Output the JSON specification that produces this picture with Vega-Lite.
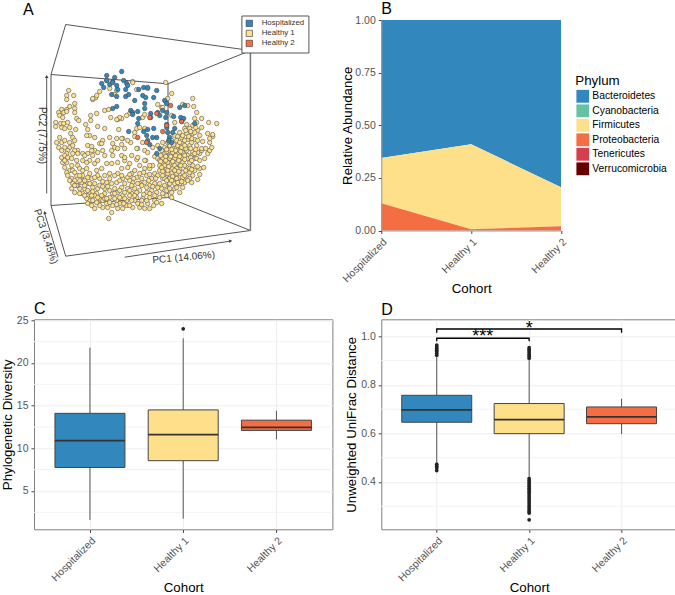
{"$schema":"https://vega.github.io/schema/vega-lite/v6.json","background":"white","padding":{"left":-1,"top":1,"right":0,"bottom":0},"columns":2,"align":{"row":"each","column":"none"},"bounds":"flush","spacing":42.3,"resolve":{"scale":{"fill":"independent"},"legend":{"fill":"independent"}},
"config":{"font":"Liberation Sans","view":{"stroke":null},"title":{"font":"Liberation Sans","fontSize":16,"fontWeight":"normal","color":"#000"},
"axis":{"labelFont":"Liberation Sans","titleFont":"Liberation Sans","labelFontSize":10.5,"labelColor":"#555","titleFontSize":13.3,"titleFontWeight":"normal","titleColor":"#000","tickColor":"#444","tickSize":3,"domain":false,"gridColor":"#EDEDED","labelPadding":3},
"axisX":{"labelAngle":-45,"labelAlign":"right","labelBaseline":"top","titleY":58,"titleBaseline":"middle"},"axisY":{"titleBaseline":"middle","titleAngle":-90}},
"datasets":{
"healthy1":[{"x":-81,"y":60},{"x":-83,"y":55},{"x":-76,"y":55},{"x":-83,"y":51},{"x":-80,"y":44},{"x":-75,"y":47},{"x":-75,"y":42},{"x":-83,"y":41},{"x":-88,"y":41},{"x":-91,"y":38},{"x":-86,"y":38},{"x":-83,"y":39},{"x":-90,"y":35},{"x":-87,"y":33},{"x":-75,"y":38},{"x":-94,"y":28},{"x":-89,"y":27},{"x":-86,"y":27},{"x":-82,"y":28},{"x":-94,"y":24},{"x":-88,"y":23},{"x":-85,"y":22},{"x":-80,"y":23},{"x":-74,"y":21},{"x":-79,"y":17},{"x":-90,"y":13},{"x":-77,"y":13},{"x":-93,"y":8},{"x":-88,"y":8},{"x":-85,"y":10},{"x":-80,"y":8},{"x":-75,"y":10},{"x":-91,"y":3},{"x":-85,"y":3},{"x":-80,"y":3},{"x":-77,"y":5},{"x":-72,"y":0},{"x":-75,"y":0},{"x":-82,"y":0},{"x":-88,"y":0},{"x":-83,"y":-3},{"x":-77,"y":-3},{"x":-72,"y":-3},{"x":-62,"y":5},{"x":-58,"y":4},{"x":-67,"y":-3},{"x":-62,"y":-3},{"x":-55,"y":0},{"x":-58,"y":0},{"x":-64,"y":26},{"x":-59,"y":30},{"x":-53,"y":37},{"x":-59,"y":35},{"x":-73,"y":32},{"x":-71,"y":30},{"x":-62,"y":21},{"x":-52,"y":24},{"x":-45,"y":22},{"x":-47,"y":10},{"x":-50,"y":7},{"x":-55,"y":13},{"x":-60,"y":15},{"x":-63,"y":15},{"x":-45,"y":40},{"x":-41,"y":41},{"x":-32,"y":31},{"x":-28,"y":32},{"x":-57,"y":51},{"x":-54,"y":53},{"x":-40,"y":13},{"x":-27,"y":12},{"x":-33,"y":12},{"x":-35,"y":3},{"x":-38,"y":0},{"x":-32,"y":2},{"x":-25,"y":2},{"x":-20,"y":37},{"x":-40,"y":62},{"x":-37,"y":7},{"x":-28,"y":6},{"x":-52,"y":-2},{"x":-47,"y":0},{"x":-48,"y":7},
{"x":-88,"y":-7},{"x":-85,"y":-5},{"x":-82,"y":-7},{"x":-87,"y":-12},{"x":-83,"y":-12},{"x":-85,"y":-17},{"x":-80,"y":-20},{"x":-83,"y":-22},{"x":-77,"y":-20},{"x":-73,"y":-25},{"x":-82,"y":-25},{"x":-78,"y":-28},{"x":-75,"y":-30},{"x":-78,"y":-38},{"x":-75,"y":-42},{"x":-70,"y":-38},{"x":-67,"y":-43},{"x":-65,"y":-38},{"x":-62,"y":-45},{"x":-60,"y":-50},{"x":-62,"y":-53},{"x":-58,"y":-55},{"x":-55,"y":-58},{"x":-47,"y":-57},{"x":-38,"y":-62},{"x":-32,"y":-58},{"x":-27,"y":-58},{"x":-41,"y":-68},{"x":-72,"y":-15},{"x":-70,"y":-18},{"x":-67,"y":-20},{"x":-63,"y":-18},{"x":-60,"y":-10},{"x":-55,"y":-13},{"x":-52,"y":-10},{"x":-43,"y":-13},{"x":-38,"y":-13},{"x":-45,"y":-5},{"x":-37,"y":-5},{"x":-28,"y":-5},{"x":-57,"y":-5},{"x":-65,"y":-5},{"x":-67,"y":-10},{"x":-60,"y":-23},{"x":-58,"y":-28},{"x":-67,"y":-30},{"x":-68,"y":-32},{"x":-55,"y":-33},{"x":-57,"y":-37},{"x":-52,"y":-38},{"x":-53,"y":-43},{"x":-50,"y":-48},{"x":-45,"y":-43},{"x":-40,"y":-40},{"x":-37,"y":-43},{"x":-40,"y":-47},{"x":-32,"y":-42},{"x":-27,"y":-45},{"x":-23,"y":-50},{"x":-33,"y":-50},{"x":-43,"y":-53},{"x":-28,"y":-37},{"x":-22,"y":-38},{"x":-33,"y":-32},{"x":-38,"y":-33},{"x":-43,"y":-32},{"x":-27,"y":-28},{"x":-22,"y":-27},{"x":-32,"y":-23},{"x":-28,"y":-18},{"x":-22,"y":-17},{"x":-45,"y":-25},{"x":-50,"y":-28},{"x":-53,"y":-20},{"x":-48,"y":-18},{"x":-60,"y":-42},{"x":-57,"y":-50},{"x":-50,"y":-55},{"x":-47,"y":-50},{"x":-37,"y":-55},{"x":-30,"y":-53},{"x":-23,"y":-55},{"x":-67,"y":-25},{"x":-72,"y":-35},{"x":-62,"y":-33},{"x":-63,"y":-48},{"x":-55,"y":-45},{"x":-52,"y":-25},{"x":-35,"y":-25},{"x":-40,"y":-23},{"x":-25,"y":-10},{"x":-32,"y":-12},
{"x":-18,"y":-23},{"x":-13,"y":-27},{"x":-10,"y":-23},{"x":-5,"y":-18},{"x":0,"y":-18},{"x":5,"y":-23},{"x":10,"y":-20},{"x":3,"y":-15},{"x":-4,"y":-10},{"x":-13,"y":-9},{"x":-20,"y":-13},{"x":-17,"y":-32},{"x":-10,"y":-33},{"x":-5,"y":-32},{"x":0,"y":-35},{"x":5,"y":-33},{"x":10,"y":-33},{"x":13,"y":-28},{"x":-15,"y":-38},{"x":-10,"y":-40},{"x":-3,"y":-42},{"x":2,"y":-40},{"x":7,"y":-42},{"x":12,"y":-38},{"x":17,"y":-40},{"x":22,"y":-42},{"x":25,"y":-38},{"x":30,"y":-42},{"x":-18,"y":-43},{"x":-13,"y":-47},{"x":-7,"y":-48},{"x":0,"y":-47},{"x":5,"y":-50},{"x":10,"y":-47},{"x":17,"y":-45},{"x":22,"y":-47},{"x":-2,"y":-53},{"x":4,"y":-55},{"x":12,"y":-53},{"x":-10,"y":-57},{"x":-5,"y":-58},{"x":0,"y":-58},{"x":-17,"y":-57},{"x":-8,"y":-50},{"x":15,"y":-35},{"x":20,"y":-33},{"x":25,"y":-33},{"x":30,"y":-33},{"x":35,"y":-32},{"x":42,"y":-32},{"x":48,"y":-29},{"x":20,"y":-28},{"x":25,"y":-28},{"x":30,"y":-27},{"x":37,"y":-27},{"x":43,"y":-25},{"x":50,"y":-24},{"x":15,"y":-23},{"x":22,"y":-23},{"x":27,"y":-23},{"x":33,"y":-22},{"x":40,"y":-22},{"x":45,"y":-20},{"x":50,"y":-18},{"x":54,"y":-17},{"x":17,"y":-18},{"x":23,"y":-18},{"x":30,"y":-18},{"x":37,"y":-17},{"x":43,"y":-15},{"x":48,"y":-16},{"x":13,"y":-13},{"x":20,"y":-13},{"x":27,"y":-13},{"x":33,"y":-12},{"x":40,"y":-12},{"x":45,"y":-8},{"x":13,"y":-8},{"x":18,"y":-8},{"x":25,"y":-8},{"x":32,"y":-7},{"x":38,"y":-5},{"x":43,"y":-4},{"x":50,"y":-3},{"x":58,"y":-3},{"x":52,"y":0},{"x":60,"y":0},{"x":15,"y":-3},{"x":22,"y":-3},{"x":28,"y":-3},{"x":33,"y":-2},{"x":5,"y":-6},{"x":8,"y":-8},{"x":0,"y":-15},{"x":18,"y":-23},{"x":28,"y":-32},{"x":33,"y":-37},
{"x":-17,"y":69},{"x":16,"y":68},{"x":-2,"y":62},{"x":18,"y":52},{"x":22,"y":57},{"x":17,"y":47},{"x":43,"y":52},{"x":44,"y":44},{"x":38,"y":45},{"x":33,"y":46},{"x":47,"y":38},{"x":52,"y":32},{"x":45,"y":32},{"x":59,"y":28},{"x":67,"y":27},{"x":58,"y":17},{"x":63,"y":14},{"x":63,"y":16},{"x":47,"y":28},{"x":37,"y":26},{"x":43,"y":25},{"x":52,"y":23},{"x":48,"y":20},{"x":40,"y":22},{"x":35,"y":22},{"x":30,"y":18},{"x":37,"y":17},{"x":43,"y":17},{"x":50,"y":15},{"x":53,"y":9},{"x":60,"y":8},{"x":45,"y":11},{"x":38,"y":11},{"x":32,"y":13},{"x":27,"y":10},{"x":33,"y":7},{"x":40,"y":5},{"x":47,"y":5},{"x":52,"y":2},{"x":27,"y":3},{"x":20,"y":5},{"x":23,"y":-2},{"x":30,"y":0},{"x":37,"y":0},{"x":43,"y":-1},{"x":48,"y":-2},{"x":13,"y":8},{"x":15,"y":3},{"x":17,"y":-1},{"x":12,"y":43},{"x":8,"y":46},{"x":-7,"y":33},{"x":-5,"y":36},{"x":22,"y":35},{"x":25,"y":28},{"x":-13,"y":22},{"x":-5,"y":22},{"x":-15,"y":14},{"x":-19,"y":8},{"x":-5,"y":0},{"x":-12,"y":2},{"x":13,"y":43},
{"x":-28,"y":12},{"x":-22,"y":10},{"x":-31,"y":21},{"x":-15,"y":18},{"x":-10,"y":23},{"x":-13,"y":2},{"x":-7,"y":8},{"x":-2,"y":-2},{"x":3,"y":3},{"x":-12,"y":-7},{"x":-5,"y":-10},{"x":-18,"y":-5},{"x":-25,"y":-7},{"x":-23,"y":35},{"x":-30,"y":33},{"x":-33,"y":31},{"x":-39,"y":33},{"x":-33,"y":60},{"x":-35,"y":56},{"x":-13,"y":61},{"x":-17,"y":68},{"x":-43,"y":70},{"x":-50,"y":59},{"x":-53,"y":55},{"x":-57,"y":52},
{"x":-70,"y":-25},{"x":-65,"y":-30},{"x":-60,"y":-33},{"x":-50,"y":-35},{"x":-45,"y":-38},{"x":-35,"y":-38},{"x":-30,"y":-30},{"x":-25,"y":-33},{"x":-20,"y":-30},{"x":-18,"y":-35},{"x":-12,"y":-33},{"x":-8,"y":-28},{"x":-3,"y":-25},{"x":2,"y":-28},{"x":8,"y":-25},{"x":-15,"y":-20},{"x":-10,"y":-15},{"x":-20,"y":-45},{"x":-15,"y":-50},{"x":-25,"y":-48},{"x":-35,"y":-48},{"x":-30,"y":-47},{"x":-20,"y":-55},{"x":-12,"y":-53},{"x":-45,"y":-48},{"x":-40,"y":-52},{"x":-53,"y":-52},{"x":-65,"y":-45},{"x":-70,"y":-43},{"x":-73,"y":-35},{"x":-77,"y":-33},{"x":-80,"y":-30},{"x":10,"y":-10},{"x":12,"y":0},{"x":8,"y":5},{"x":18,"y":8},{"x":25,"y":15},{"x":22,"y":10},{"x":35,"y":10},{"x":42,"y":8},{"x":47,"y":-8},{"x":35,"y":-15},{"x":25,"y":-15},{"x":15,"y":-15},{"x":10,"y":-15},{"x":40,"y":-18},{"x":45,"y":-3},{"x":28,"y":5},{"x":18,"y":-12},{"x":32,"y":3},{"x":38,"y":-8},{"x":20,"y":-8},{"x":27,"y":-18},{"x":33,"y":-27},{"x":40,"y":-28},{"x":27,"y":-37},{"x":20,"y":-38},{"x":15,"y":-28},{"x":55,"y":-8},{"x":50,"y":-10},{"x":56,"y":2},{"x":62,"y":3},{"x":60,"y":12},
{"x":11,"y":-5},{"x":16,"y":-6},{"x":21,"y":-6},{"x":26,"y":-5},{"x":30,"y":-6},{"x":35,"y":-5},{"x":41,"y":-7},{"x":11,"y":-11},{"x":16,"y":-10},{"x":23,"y":-11},{"x":29,"y":-10},{"x":35,"y":-9},{"x":42,"y":-10},{"x":12,"y":-17},{"x":19,"y":-16},{"x":25,"y":-20},{"x":31,"y":-15},{"x":36,"y":-20},{"x":42,"y":-19},{"x":13,"y":-21},{"x":18,"y":-20},{"x":23,"y":-26},{"x":29,"y":-21},{"x":35,"y":-25},{"x":13,"y":-25},{"x":17,"y":-30},{"x":22,"y":-30},{"x":27,"y":-28},{"x":32,"y":-31},{"x":38,"y":-30},{"x":17,"y":1},{"x":22,"y":1},{"x":26,"y":0},{"x":31,"y":-1},{"x":36,"y":2},{"x":41,"y":2},{"x":46,"y":1},{"x":19,"y":9},{"x":24,"y":6},{"x":30,"y":8},{"x":35,"y":5},{"x":42,"y":12},{"x":48,"y":10},{"x":33,"y":15},{"x":39,"y":14},{"x":45,"y":18},{"x":28,"y":14},{"x":41,"y":19},{"x":36,"y":20},{"x":46,"y":23},
{"x":-8,"y":-35},{"x":-3,"y":-37},{"x":3,"y":-36},{"x":8,"y":-37},{"x":-13,"y":-42},{"x":-6,"y":-44},{"x":0,"y":-43},{"x":5,"y":-45},{"x":13,"y":-43},{"x":-15,"y":-45},{"x":-20,"y":-40},{"x":-25,"y":-42},{"x":-30,"y":-40},{"x":-35,"y":-43},{"x":-42,"y":-36},{"x":-47,"y":-36},{"x":-48,"y":-45},{"x":-43,"y":-48},{"x":-58,"y":-45},{"x":-62,"y":-40},{"x":-57,"y":-41},{"x":-65,"y":-35},{"x":-70,"y":-30},{"x":-75,"y":-35},{"x":-8,"y":-54},{"x":-3,"y":-50},{"x":7,"y":-52},{"x":-18,"y":-50},{"x":-26,"y":-53},{"x":-33,"y":-54},{"x":-42,"y":-57},{"x":-52,"y":-47},{"x":-28,"y":-25},{"x":-20,"y":-24},{"x":-16,"y":-28},{"x":-6,"y":-22},{"x":0,"y":-24},{"x":-1,"y":-30},{"x":6,"y":-28},{"x":-40,"y":-28},{"x":-47,"y":-31},{"x":-55,"y":-27},{"x":-62,"y":-27},{"x":-78,"y":-15},{"x":-75,"y":-22},{"x":-85,"y":-10},{"x":-78,"y":-8},{"x":-73,"y":-10},{"x":-63,"y":-12}],
"hospitalized":[{"x":-43,"y":75},{"x":-28,"y":79},{"x":-35,"y":73},{"x":-43,"y":70},{"x":-37,"y":69},{"x":-48,"y":67},{"x":-46,"y":63},{"x":-40,"y":66},{"x":-37,"y":68},{"x":-33,"y":65},{"x":-26,"y":70},{"x":-23,"y":67},{"x":-22,"y":65},{"x":-32,"y":61},{"x":-24,"y":61},{"x":-38,"y":56},{"x":-33,"y":54},{"x":-24,"y":54},{"x":-21,"y":56},{"x":-11,"y":61},{"x":-6,"y":63},{"x":-2,"y":63},{"x":-7,"y":55},{"x":-4,"y":53},{"x":7,"y":60},{"x":4,"y":53},{"x":-15,"y":50},{"x":-5,"y":47},{"x":15,"y":50},{"x":17,"y":47},{"x":-33,"y":44},{"x":-37,"y":42},{"x":-19,"y":40},{"x":-17,"y":38},{"x":-12,"y":39},{"x":-17,"y":36},{"x":-11,"y":32},{"x":1,"y":37},{"x":-5,"y":42},{"x":8,"y":38},{"x":13,"y":40},{"x":17,"y":38},{"x":16,"y":33},{"x":10,"y":35},{"x":1,"y":33},{"x":-12,"y":27},{"x":-21,"y":19},{"x":4,"y":22},{"x":-2,"y":21},{"x":-6,"y":19},{"x":17,"y":23},{"x":18,"y":18},{"x":30,"y":43},{"x":35,"y":45},{"x":24,"y":34},{"x":31,"y":33},{"x":34,"y":32},{"x":32,"y":29},{"x":20,"y":13},{"x":23,"y":18},{"x":19,"y":10},{"x":7,"y":13},{"x":3,"y":13},{"x":-3,"y":15},{"x":-2,"y":10},{"x":0,"y":6},{"x":10,"y":2},{"x":7,"y":-3},{"x":22,"y":8},{"x":25,"y":22},{"x":17,"y":26},{"x":45,"y":27}],
"healthy2":[{"x":21,"y":45},{"x":7,"y":37},{"x":0,"y":33},{"x":17,"y":25},{"x":13,"y":19},{"x":32,"y":29},{"x":-12,"y":13},{"x":-3,"y":8}],
"boxC":[{"Cohort":"Hospitalized","lower":1.6,"q1":7.75,"median":10.9,"q3":14.1,"upper":21.8},{"Cohort":"Healthy 1","lower":1.75,"q1":8.55,"median":11.6,"q3":14.5,"upper":22.9},{"Cohort":"Healthy 2","lower":11.05,"q1":12.1,"median":12.45,"q3":13.3,"upper":14.4}],
"boxD":[{"Cohort":"Hospitalized","lower":0.481,"q1":0.646,"median":0.697,"q3":0.757,"upper":0.92},{"Cohort":"Healthy 1","lower":0.418,"q1":0.599,"median":0.657,"q3":0.723,"upper":0.905},{"Cohort":"Healthy 2","lower":0.597,"q1":0.64,"median":0.668,"q3":0.709,"upper":0.743}],
"outD":[{"Cohort":"Hospitalized","v":0.964},{"Cohort":"Hospitalized","v":0.957},{"Cohort":"Hospitalized","v":0.95},{"Cohort":"Hospitalized","v":0.943},{"Cohort":"Hospitalized","v":0.936},{"Cohort":"Hospitalized","v":0.929},{"Cohort":"Hospitalized","v":0.922},{"Cohort":"Hospitalized","v":0.473},{"Cohort":"Hospitalized","v":0.465},{"Cohort":"Hospitalized","v":0.458},{"Cohort":"Hospitalized","v":0.447},{"Cohort":"Healthy 1","v":0.953},{"Cohort":"Healthy 1","v":0.946},{"Cohort":"Healthy 1","v":0.939},{"Cohort":"Healthy 1","v":0.932},{"Cohort":"Healthy 1","v":0.925},{"Cohort":"Healthy 1","v":0.918},{"Cohort":"Healthy 1","v":0.91},{"Cohort":"Healthy 1","v":0.414},{"Cohort":"Healthy 1","v":0.406},{"Cohort":"Healthy 1","v":0.398},{"Cohort":"Healthy 1","v":0.39},{"Cohort":"Healthy 1","v":0.382},{"Cohort":"Healthy 1","v":0.374},{"Cohort":"Healthy 1","v":0.366},{"Cohort":"Healthy 1","v":0.358},{"Cohort":"Healthy 1","v":0.35},{"Cohort":"Healthy 1","v":0.342},{"Cohort":"Healthy 1","v":0.334},{"Cohort":"Healthy 1","v":0.326},{"Cohort":"Healthy 1","v":0.318},{"Cohort":"Healthy 1","v":0.31},{"Cohort":"Healthy 1","v":0.302},{"Cohort":"Healthy 1","v":0.294},{"Cohort":"Healthy 1","v":0.286},{"Cohort":"Healthy 1","v":0.278},{"Cohort":"Healthy 1","v":0.272},{"Cohort":"Healthy 1","v":0.244}],
"brackets":[{"b":"a","Cohort":"Hospitalized","y":0.98,"s":1},{"b":"a","Cohort":"Hospitalized","y":0.992,"s":2},{"b":"a","Cohort":"Healthy 1","y":0.992,"s":3},{"b":"a","Cohort":"Healthy 1","y":0.98,"s":4},{"b":"b","Cohort":"Hospitalized","y":1.015,"s":1},{"b":"b","Cohort":"Hospitalized","y":1.03,"s":2},{"b":"b","Cohort":"Healthy 2","y":1.03,"s":3},{"b":"b","Cohort":"Healthy 2","y":1.015,"s":4}]
},
"concat":[
{"width":304.7,"height":257,"title":{"text":"A","anchor":"start","frame":"group","offset":-3.3,"dx":-11},
"encoding":{"x":{"field":"x","type":"quantitative","scale":{"domain":[-115.7,189],"nice":false,"zero":false},"axis":null},"y":{"field":"y","type":"quantitative","scale":{"domain":[-126.5,130.5],"nice":false,"zero":false},"axis":null}},
"layer":[
{"data":{"values":[{"x":-84,"y":126,"x2":100.7,"y2":100},{"x":-98.7,"y":76,"x2":18.3,"y2":66.7},{"x":-98.7,"y":76,"x2":-98.7,"y2":-55},{"x":18.3,"y":66.7,"x2":18.3,"y2":-47},{"x":-98.7,"y":-55,"x2":18.3,"y2":-47},{"x":-98.7,"y":76,"x2":-84,"y2":126},{"x":-98.7,"y":-55,"x2":-84,"y2":-105.7},{"x":18.3,"y":66.7,"x2":100.7,"y2":100},{"x":-84,"y":-105.7,"x2":100.7,"y2":-80},{"x":18.3,"y":-47,"x2":100.7,"y2":-80},{"x":-103,"y":-43,"x2":-103,"y2":73},{"x":-91.7,"y":-106.7,"x2":-105,"y2":-63},{"x":-25,"y":-106.7,"x2":80,"y2":-90.7}]},"mark":{"type":"rule","color":"#555","strokeWidth":1},"encoding":{"x2":{"field":"x2"},"y2":{"field":"y2"}}},
{"data":{"values":[{"x":100.7,"y":100,"x2":100.7,"y2":-80}]},"mark":{"type":"rule","color":"#777","strokeWidth":1.5},"encoding":{"x2":{"field":"x2"},"y2":{"field":"y2"}}},
{"data":{"values":[{"x":-103,"y":74,"heading":0},{"x":-105,"y":-62,"heading":-17},{"x":81,"y":-90.5,"heading":81}]},"mark":{"type":"point","shape":"triangle-up","filled":true,"size":14,"color":"#444","opacity":1},"encoding":{"angle":{"field":"heading","type":"quantitative","scale":null}}},
{"data":{"values":[{"x":34,"y":-107,"label":"PC1 (14.06%)","angle":-5},{"x":-108,"y":15,"label":"PC2 (7.75%)","angle":90},{"x":-104,"y":-86,"label":"PC3 (3.45%)","angle":72}]},"mark":{"type":"text","fontSize":10,"color":"#333","font":"Liberation Sans","align":"center","baseline":"middle"},"encoding":{"text":{"field":"label"},"angle":{"field":"angle","type":"quantitative","scale":null}}},
{"data":{"name":"healthy1"},"mark":{"type":"point","filled":true,"size":20,"stroke":"#555","strokeWidth":0.6,"opacity":1},"encoding":{"fill":{"datum":"Healthy 1","scale":{"domain":["Hospitalized","Healthy 1","Healthy 2"],"range":["#3288BD","#FEE08B","#F46D43"]},"legend":{"orient":"none","legendX":207.4,"legendY":-4.5,"title":null,"fillColor":"white","strokeColor":"#555","padding":4,"symbolType":"square","symbolSize":40,"symbolStrokeColor":"#333","symbolStrokeWidth":0.6,"labelFont":"Liberation Sans","labelFontSize":7.8,"labelColor":"#333","labelOffset":8.5,"rowPadding":0,"zindex":1}}}},
{"data":{"name":"hospitalized"},"mark":{"type":"point","filled":true,"size":20,"stroke":"#444","strokeWidth":0.6,"opacity":1},"encoding":{"fill":{"datum":"Hospitalized","scale":{"domain":["Hospitalized","Healthy 1","Healthy 2"],"range":["#3288BD","#FEE08B","#F46D43"]}}}},
{"data":{"name":"healthy2"},"mark":{"type":"point","filled":true,"size":20,"stroke":"#444","strokeWidth":0.6,"opacity":1},"encoding":{"fill":{"datum":"Healthy 2","scale":{"domain":["Hospitalized","Healthy 1","Healthy 2"],"range":["#3288BD","#FEE08B","#F46D43"]}}}}
]},
{"width":179.7,"height":210.5,"title":{"text":"B","anchor":"start","frame":"group","offset":-2.3},
"layer":[
{"data":{"values":[{"Cohort":"Hospitalized","Phylum":"Bacteroidetes","a":0.655},{"Cohort":"Hospitalized","Phylum":"Cyanobacteria","a":0},{"Cohort":"Hospitalized","Phylum":"Firmicutes","a":0.215},{"Cohort":"Hospitalized","Phylum":"Proteobacteria","a":0.13},{"Cohort":"Hospitalized","Phylum":"Tenericutes","a":0},{"Cohort":"Hospitalized","Phylum":"Verrucomicrobia","a":0},{"Cohort":"Healthy 1","Phylum":"Bacteroidetes","a":0.59},{"Cohort":"Healthy 1","Phylum":"Cyanobacteria","a":0},{"Cohort":"Healthy 1","Phylum":"Firmicutes","a":0.404},{"Cohort":"Healthy 1","Phylum":"Proteobacteria","a":0.006},{"Cohort":"Healthy 1","Phylum":"Tenericutes","a":0},{"Cohort":"Healthy 1","Phylum":"Verrucomicrobia","a":0},{"Cohort":"Healthy 2","Phylum":"Bacteroidetes","a":0.795},{"Cohort":"Healthy 2","Phylum":"Cyanobacteria","a":0},{"Cohort":"Healthy 2","Phylum":"Firmicutes","a":0.185},{"Cohort":"Healthy 2","Phylum":"Proteobacteria","a":0.02},{"Cohort":"Healthy 2","Phylum":"Tenericutes","a":0},{"Cohort":"Healthy 2","Phylum":"Verrucomicrobia","a":0}]},
"mark":{"type":"area","opacity":1},
"encoding":{"x":{"field":"Cohort","type":"nominal","scale":{"type":"point","domain":["Hospitalized","Healthy 1","Healthy 2"],"padding":0},"axis":{"title":"Cohort","grid":false,"domain":true,"domainColor":"#999","zindex":1}},"y":{"field":"a","type":"quantitative","stack":"zero","scale":{"domain":[0,1],"nice":false},"axis":{"title":"Relative Abundance","values":[0,0.25,0.5,0.75,1],"format":".2f","grid":false,"titleX":-34.3,"domain":true,"domainColor":"#999","zindex":1}},
"fill":{"field":"Phylum","type":"nominal","scale":{"domain":["Bacteroidetes","Cyanobacteria","Firmicutes","Proteobacteria","Tenericutes","Verrucomicrobia"],"range":["#3288BD","#66C2A5","#FEE08B","#F46D43","#D53E4F","#660000"]},"legend":{"orient":"none","legendX":194,"legendY":53.5,"title":"Phylum","titleFont":"Liberation Sans","titleFontSize":13.3,"titleFontWeight":"normal","titleColor":"#000","titlePadding":2.5,"symbolType":"square","symbolSize":190,"symbolStrokeColor":"white","symbolStrokeWidth":1,"labelFont":"Liberation Sans","labelFontSize":10.3,"labelColor":"#000","labelOffset":2,"rowPadding":0.5,"clipHeight":14,"padding":0}}}},
{"mark":{"type":"rule","color":"#AAA","strokeWidth":1},"encoding":{"y":{"datum":1,"type":"quantitative","scale":{"domain":[0,1],"nice":false}}}},
{"mark":{"type":"rule","color":"#AAA","strokeWidth":1},"encoding":{"x":{"datum":"Healthy 2","type":"nominal","scale":{"type":"point","domain":["Hospitalized","Healthy 1","Healthy 2"],"padding":0}}}}
]},
{"width":298.4,"height":210,"title":{"text":"C","anchor":"start","frame":"group","offset":-2},"view":{"stroke":"#808080"},
"layer":[
{"data":{"values":[{"v":2.5},{"v":7.5},{"v":12.5},{"v":17.5},{"v":22.5}]},"mark":{"type":"rule","color":"#F3F3F3","strokeWidth":1},"encoding":{"y":{"field":"v","type":"quantitative","scale":{"domain":[0.51,25.12],"nice":false,"zero":false},"axis":{"title":"Phylogenetic Diversity","values":[5,10,15,20,25],"grid":true,"titleX":-27}}}},
{"data":{"name":"boxC"},"mark":{"type":"rule","color":"#555","strokeWidth":1},"encoding":{"x":{"field":"Cohort","type":"nominal","scale":{"type":"point","domain":["Hospitalized","Healthy 1","Healthy 2"],"padding":0.6},"axis":{"title":"Cohort","grid":true}},"y":{"field":"lower","type":"quantitative","scale":{"domain":[0.51,25.12],"nice":false,"zero":false}},"y2":{"field":"upper"}}},
{"data":{"name":"boxC"},"mark":{"type":"bar","size":70,"stroke":"#444","strokeWidth":1},"encoding":{"x":{"field":"Cohort","type":"nominal","scale":{"type":"point","domain":["Hospitalized","Healthy 1","Healthy 2"],"padding":0.6}},"y":{"field":"q1","type":"quantitative","scale":{"domain":[0.51,25.12],"nice":false,"zero":false}},"y2":{"field":"q3"},"fill":{"field":"Cohort","type":"nominal","scale":{"domain":["Hospitalized","Healthy 1","Healthy 2"],"range":["#3288BD","#FEE08B","#F46D43"]},"legend":null}}},
{"data":{"name":"boxC"},"mark":{"type":"tick","size":70,"thickness":1.8,"color":"#333","opacity":1},"encoding":{"x":{"field":"Cohort","type":"nominal","scale":{"type":"point","domain":["Hospitalized","Healthy 1","Healthy 2"],"padding":0.6}},"y":{"field":"median","type":"quantitative","scale":{"domain":[0.51,25.12],"nice":false,"zero":false}}}},
{"data":{"values":[{"Cohort":"Healthy 1","v":24}]},"mark":{"type":"point","filled":true,"size":14,"color":"#222","opacity":1},"encoding":{"x":{"field":"Cohort","type":"nominal","scale":{"type":"point","domain":["Hospitalized","Healthy 1","Healthy 2"],"padding":0.6}},"y":{"field":"v","type":"quantitative","scale":{"domain":[0.51,25.12],"nice":false,"zero":false}}}}
]},
{"width":295.7,"height":210,"title":{"text":"D","anchor":"start","frame":"group","offset":1},"view":{"stroke":"#808080"},
"layer":[
{"data":{"values":[{"v":0.3},{"v":0.5},{"v":0.7},{"v":0.9}]},"mark":{"type":"rule","color":"#F3F3F3","strokeWidth":1},"encoding":{"y":{"field":"v","type":"quantitative","scale":{"domain":[0.205,1.07],"nice":false,"zero":false},"axis":{"title":"Unweighted UniFrac Distance","values":[0.4,0.6,0.8,1],"format":".1f","grid":true,"titleX":-30.3}}}},
{"data":{"name":"boxD"},"mark":{"type":"rule","color":"#555","strokeWidth":1},"encoding":{"x":{"field":"Cohort","type":"nominal","scale":{"type":"point","domain":["Hospitalized","Healthy 1","Healthy 2"],"padding":0.6},"axis":{"title":"Cohort","grid":true}},"y":{"field":"lower","type":"quantitative","scale":{"domain":[0.205,1.07],"nice":false,"zero":false}},"y2":{"field":"upper"}}},
{"data":{"name":"boxD"},"mark":{"type":"bar","size":70,"stroke":"#444","strokeWidth":1},"encoding":{"x":{"field":"Cohort","type":"nominal","scale":{"type":"point","domain":["Hospitalized","Healthy 1","Healthy 2"],"padding":0.6}},"y":{"field":"q1","type":"quantitative","scale":{"domain":[0.205,1.07],"nice":false,"zero":false}},"y2":{"field":"q3"},"fill":{"field":"Cohort","type":"nominal","scale":{"domain":["Hospitalized","Healthy 1","Healthy 2"],"range":["#3288BD","#FEE08B","#F46D43"]},"legend":null}}},
{"data":{"name":"boxD"},"mark":{"type":"tick","size":70,"thickness":1.8,"color":"#333","opacity":1},"encoding":{"x":{"field":"Cohort","type":"nominal","scale":{"type":"point","domain":["Hospitalized","Healthy 1","Healthy 2"],"padding":0.6}},"y":{"field":"median","type":"quantitative","scale":{"domain":[0.205,1.07],"nice":false,"zero":false}}}},
{"data":{"name":"outD"},"mark":{"type":"point","filled":true,"size":14,"color":"#222","opacity":1},"encoding":{"x":{"field":"Cohort","type":"nominal","scale":{"type":"point","domain":["Hospitalized","Healthy 1","Healthy 2"],"padding":0.6}},"y":{"field":"v","type":"quantitative","scale":{"domain":[0.205,1.07],"nice":false,"zero":false}}}},
{"data":{"name":"brackets"},"mark":{"type":"line","color":"#000","strokeWidth":1.3},"encoding":{"x":{"field":"Cohort","type":"nominal","scale":{"type":"point","domain":["Hospitalized","Healthy 1","Healthy 2"],"padding":0.6}},"y":{"field":"y","type":"quantitative","scale":{"domain":[0.205,1.07],"nice":false,"zero":false}},"detail":{"field":"b"},"order":{"field":"s"}}},
{"data":{"values":[{"Cohort":"Healthy 1","y":0.998,"label":"***"}]},"mark":{"type":"text","fontSize":18,"color":"#000","font":"Liberation Sans","baseline":"middle","dx":-46.3},"encoding":{"x":{"field":"Cohort","type":"nominal","scale":{"type":"point","domain":["Hospitalized","Healthy 1","Healthy 2"],"padding":0.6}},"y":{"field":"y","type":"quantitative","scale":{"domain":[0.205,1.07],"nice":false,"zero":false}},"text":{"field":"label"}}},
{"data":{"values":[{"Cohort":"Healthy 1","y":1.029,"label":"*"}]},"mark":{"type":"text","fontSize":18,"color":"#000","font":"Liberation Sans","baseline":"middle"},"encoding":{"x":{"field":"Cohort","type":"nominal","scale":{"type":"point","domain":["Hospitalized","Healthy 1","Healthy 2"],"padding":0.6}},"y":{"field":"y","type":"quantitative","scale":{"domain":[0.205,1.07],"nice":false,"zero":false}},"text":{"field":"label"}}}
]}
]}
